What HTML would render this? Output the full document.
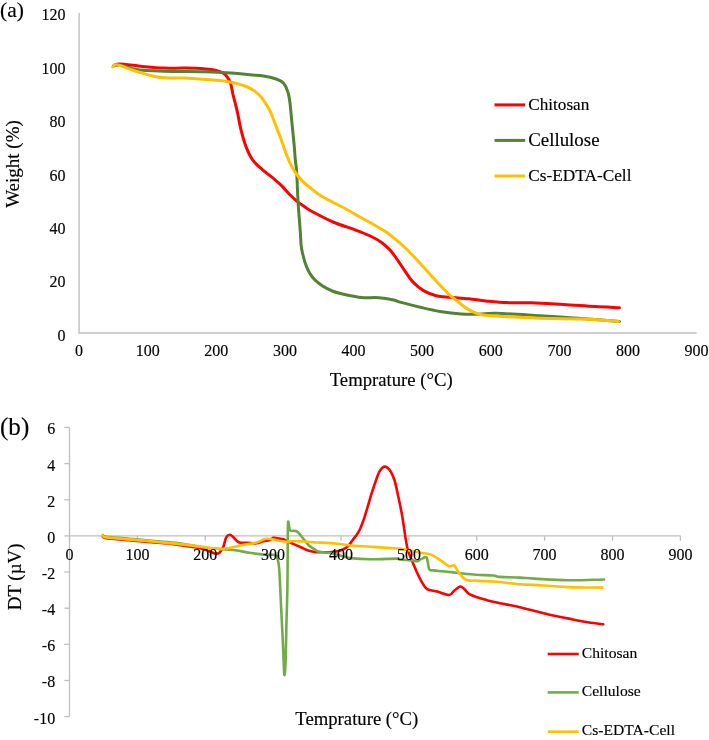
<!DOCTYPE html>
<html><head><meta charset="utf-8"><style>
html,body{margin:0;padding:0;background:#fff;width:709px;height:740px;overflow:hidden;font-family:"Liberation Serif",serif;}
svg{display:block;will-change:transform;}
</style></head><body>
<svg width="709" height="740" viewBox="0 0 709 740">
<rect width="709" height="740" fill="#fff"/>
<g font-family="Liberation Serif, serif" fill="#000" stroke="#000" stroke-width="0.15">
<path d="M79.1 12.9 V333 H696.6" fill="none" stroke="#BFBFBF" stroke-width="1.4"/>
<text x="65.6" y="340.7" font-size="16" text-anchor="end">0</text>
<text x="65.6" y="287.3" font-size="16" text-anchor="end">20</text>
<text x="65.6" y="233.9" font-size="16" text-anchor="end">40</text>
<text x="65.6" y="180.5" font-size="16" text-anchor="end">60</text>
<text x="65.6" y="127.1" font-size="16" text-anchor="end">80</text>
<text x="65.6" y="73.7" font-size="16" text-anchor="end">100</text>
<text x="65.6" y="20.3" font-size="16" text-anchor="end">120</text>
<text x="79.1" y="356.4" font-size="16" text-anchor="middle">0</text>
<text x="147.7" y="356.4" font-size="16" text-anchor="middle">100</text>
<text x="216.3" y="356.4" font-size="16" text-anchor="middle">200</text>
<text x="284.9" y="356.4" font-size="16" text-anchor="middle">300</text>
<text x="353.5" y="356.4" font-size="16" text-anchor="middle">400</text>
<text x="422.1" y="356.4" font-size="16" text-anchor="middle">500</text>
<text x="490.8" y="356.4" font-size="16" text-anchor="middle">600</text>
<text x="559.4" y="356.4" font-size="16" text-anchor="middle">700</text>
<text x="628.0" y="356.4" font-size="16" text-anchor="middle">800</text>
<text x="696.6" y="356.4" font-size="16" text-anchor="middle">900</text>
<text x="391.2" y="385.7" font-size="18.7" text-anchor="middle">Temprature (°C)</text>
<text x="0.0" y="0.0" font-size="19" text-anchor="middle" transform="translate(19.4 164) rotate(-90)">Weight (%)</text>
<text x="0.0" y="17.2" font-size="21.5" text-anchor="start">(a)</text>
<line x1="494.5" y1="104.9" x2="525.2" y2="104.9" stroke="#FF0000" stroke-width="3"/>
<text x="528.2" y="110.0" font-size="17.2" text-anchor="start">Chitosan</text>
<line x1="494.5" y1="140.4" x2="525.2" y2="140.4" stroke="#548235" stroke-width="3"/>
<text x="528.2" y="145.5" font-size="18.9" text-anchor="start">Cellulose</text>
<line x1="494.5" y1="176.0" x2="525.2" y2="176.0" stroke="#FFC000" stroke-width="3"/>
<text x="528.2" y="181.1" font-size="17.3" text-anchor="start">Cs-EDTA-Cell</text>
<path d="M113.5 66.0 C114.4 65.7 114.2 63.9 119.0 64.0 C123.8 64.1 134.9 65.7 142.3 66.4 C149.7 67.1 156.4 67.8 163.5 68.1 C170.6 68.4 177.5 68.0 184.6 68.1 C191.7 68.2 200.4 68.5 205.8 68.9 C211.2 69.3 214.2 70.0 216.9 70.6 C219.6 71.2 220.6 71.8 222.0 72.5 C223.4 73.2 224.0 73.2 225.4 74.8 C226.8 76.4 228.9 78.6 230.2 82.0 C231.5 85.4 231.9 90.1 233.1 95.0 C234.3 99.9 235.8 105.2 237.2 111.2 C238.5 117.2 239.7 124.7 241.2 130.7 C242.7 136.6 244.2 142.0 246.1 146.9 C248.0 151.8 249.9 156.1 252.6 159.9 C255.3 163.7 258.8 166.5 262.3 169.6 C265.8 172.7 270.4 175.9 273.7 178.6 C276.9 181.3 279.1 183.2 281.8 185.9 C284.5 188.6 287.2 192.1 289.9 194.8 C292.6 197.5 295.5 200.1 298.0 202.1 C300.5 204.1 302.7 205.4 305.0 207.0 C307.3 208.6 307.3 209.0 312.0 211.5 C316.7 214.0 325.8 218.9 333.0 222.0 C340.2 225.1 348.8 227.5 355.0 229.8 C361.2 232.1 365.8 233.9 370.2 236.0 C374.6 238.1 378.2 240.0 381.6 242.4 C385.0 244.8 387.8 247.5 390.5 250.6 C393.2 253.7 395.6 257.2 398.1 260.8 C400.6 264.4 403.2 268.6 405.7 272.2 C408.2 275.8 410.3 279.3 413.3 282.4 C416.3 285.5 419.7 288.4 423.5 290.6 C427.3 292.8 431.8 294.6 436.2 295.7 C440.6 296.8 444.6 296.8 450.0 297.3 C455.4 297.8 462.9 298.2 468.9 298.8 C474.9 299.4 479.5 300.3 485.8 300.9 C492.1 301.5 499.2 302.3 506.9 302.6 C514.5 302.9 522.3 302.5 531.7 302.8 C541.1 303.1 552.9 303.9 563.5 304.5 C574.1 305.1 585.9 306.1 595.2 306.6 C604.5 307.1 615.5 307.5 619.5 307.7" fill="none" stroke="#FF0000" stroke-width="3" stroke-linejoin="round" stroke-linecap="round"/>
<path d="M113.7 65.9 C114.9 65.8 117.3 64.6 121.0 65.2 C124.7 65.8 128.9 68.5 136.0 69.5 C143.1 70.5 151.9 70.8 163.5 71.2 C175.1 71.6 194.4 71.5 205.8 71.8 C217.2 72.1 224.3 72.6 231.7 73.1 C239.1 73.6 244.7 74.3 250.0 74.8 C255.3 75.3 259.1 75.2 263.5 75.9 C267.9 76.6 272.8 77.8 276.2 79.0 C279.6 80.2 281.7 81.2 283.6 83.3 C285.5 85.4 286.8 88.5 287.8 91.7 C288.9 94.9 289.2 97.0 289.9 102.3 C290.6 107.6 291.3 116.5 292.0 123.5 C292.7 130.6 293.6 138.5 294.1 144.6 C294.7 150.7 294.9 155.6 295.3 160.0 C295.7 164.4 296.1 164.0 296.6 171.2 C297.1 178.3 297.6 194.6 298.1 202.9 C298.6 211.2 299.1 216.2 299.5 221.2 C299.9 226.2 300.0 228.4 300.4 233.0 C300.8 237.6 300.5 242.9 301.6 248.7 C302.7 254.5 304.6 262.4 306.9 267.7 C309.2 273.0 311.2 276.5 315.4 280.4 C319.6 284.3 325.9 288.4 332.3 291.0 C338.7 293.6 348.2 295.2 353.5 296.3 C358.8 297.4 359.8 297.5 364.0 297.7 C368.2 297.9 373.9 297.3 378.9 297.7 C383.8 298.1 390.0 299.2 393.7 300.0 C397.4 300.8 396.4 301.1 401.2 302.4 C406.0 303.7 415.8 306.2 422.3 307.7 C428.8 309.2 433.5 310.3 440.0 311.4 C446.5 312.4 455.3 313.5 461.2 314.0 C467.1 314.5 469.4 314.4 475.3 314.3 C481.2 314.2 485.6 313.1 496.4 313.3 C507.2 313.6 525.3 314.9 540.0 315.8 C554.7 316.7 571.4 317.8 584.6 318.7 C597.9 319.6 613.7 320.9 619.5 321.4" fill="none" stroke="#548235" stroke-width="3" stroke-linejoin="round" stroke-linecap="round"/>
<path d="M112.7 66.9 C113.2 66.6 114.5 65.0 115.9 64.8 C117.3 64.6 117.9 64.8 121.2 65.9 C124.5 67.0 130.0 69.4 136.0 71.2 C142.0 73.0 149.0 75.8 157.1 76.9 C165.2 78.1 177.4 77.8 184.6 78.1 C191.8 78.4 193.4 78.5 200.0 79.0 C206.6 79.5 218.1 80.2 223.9 80.9 C229.8 81.6 231.3 82.2 235.1 83.1 C238.8 84.0 243.0 85.1 246.4 86.5 C249.8 87.9 252.8 89.6 255.4 91.6 C258.0 93.5 259.6 95.1 262.0 98.2 C264.4 101.3 267.6 106.5 269.5 110.0 C271.4 113.5 272.2 116.2 273.5 119.5 C274.8 122.8 276.2 126.5 277.5 130.0 C278.8 133.5 280.2 136.9 281.5 140.5 C282.8 144.1 283.7 147.4 285.3 151.5 C286.9 155.6 289.0 161.2 291.0 165.2 C293.0 169.2 295.2 172.5 297.5 175.5 C299.8 178.5 302.9 181.4 305.0 183.4 C307.1 185.4 307.2 185.4 310.0 187.5 C312.8 189.6 315.7 192.6 321.7 196.2 C327.7 199.8 339.6 205.5 346.0 209.0 C352.4 212.5 355.6 214.5 360.0 217.0 C364.4 219.5 368.5 221.6 372.7 224.0 C376.9 226.4 382.0 229.4 385.4 231.6 C388.8 233.8 390.5 235.3 393.0 237.3 C395.5 239.3 397.6 240.9 400.6 243.6 C403.6 246.2 407.0 249.3 410.8 253.2 C414.6 257.1 419.3 262.5 423.5 267.1 C427.7 271.8 432.0 276.6 436.2 281.1 C440.4 285.7 445.9 291.5 448.9 294.4 C451.9 297.3 451.4 296.3 454.1 298.5 C456.9 300.7 461.2 305.0 465.4 307.6 C469.6 310.2 474.3 312.9 479.5 314.3 C484.7 315.7 486.3 315.5 496.4 316.1 C506.5 316.8 525.3 317.7 540.0 318.2 C554.7 318.7 571.5 318.6 584.6 319.1 C597.7 319.6 612.9 321.0 618.5 321.4" fill="none" stroke="#FFC000" stroke-width="3" stroke-linejoin="round" stroke-linecap="round"/>
<path d="M69.5 427.4 V716.6" fill="none" stroke="#BFBFBF" stroke-width="1.3"/>
<line x1="64.3" y1="716.6" x2="69.5" y2="716.6" stroke="#BFBFBF" stroke-width="1.3"/>
<text x="55.2" y="723.5" font-size="16" text-anchor="end">-10</text>
<line x1="64.3" y1="680.5" x2="69.5" y2="680.5" stroke="#BFBFBF" stroke-width="1.3"/>
<text x="55.2" y="687.4" font-size="16" text-anchor="end">-8</text>
<line x1="64.3" y1="644.3" x2="69.5" y2="644.3" stroke="#BFBFBF" stroke-width="1.3"/>
<text x="55.2" y="651.2" font-size="16" text-anchor="end">-6</text>
<line x1="64.3" y1="608.2" x2="69.5" y2="608.2" stroke="#BFBFBF" stroke-width="1.3"/>
<text x="55.2" y="615.1" font-size="16" text-anchor="end">-4</text>
<line x1="64.3" y1="572.0" x2="69.5" y2="572.0" stroke="#BFBFBF" stroke-width="1.3"/>
<text x="55.2" y="578.9" font-size="16" text-anchor="end">-2</text>
<line x1="64.3" y1="535.9" x2="69.5" y2="535.9" stroke="#BFBFBF" stroke-width="1.3"/>
<text x="55.2" y="542.8" font-size="16" text-anchor="end">0</text>
<line x1="64.3" y1="499.8" x2="69.5" y2="499.8" stroke="#BFBFBF" stroke-width="1.3"/>
<text x="55.2" y="506.6" font-size="16" text-anchor="end">2</text>
<line x1="64.3" y1="463.6" x2="69.5" y2="463.6" stroke="#BFBFBF" stroke-width="1.3"/>
<text x="55.2" y="470.5" font-size="16" text-anchor="end">4</text>
<line x1="64.3" y1="427.4" x2="69.5" y2="427.4" stroke="#BFBFBF" stroke-width="1.3"/>
<text x="55.2" y="434.3" font-size="16" text-anchor="end">6</text>
<line x1="69.5" y1="535.8" x2="680.4" y2="535.8" stroke="#BFBFBF" stroke-width="1.3"/>
<line x1="69.5" y1="535.8" x2="69.5" y2="540.8" stroke="#BFBFBF" stroke-width="1.3"/>
<line x1="137.4" y1="535.8" x2="137.4" y2="540.8" stroke="#BFBFBF" stroke-width="1.3"/>
<line x1="205.2" y1="535.8" x2="205.2" y2="540.8" stroke="#BFBFBF" stroke-width="1.3"/>
<line x1="273.1" y1="535.8" x2="273.1" y2="540.8" stroke="#BFBFBF" stroke-width="1.3"/>
<line x1="341.0" y1="535.8" x2="341.0" y2="540.8" stroke="#BFBFBF" stroke-width="1.3"/>
<line x1="408.9" y1="535.8" x2="408.9" y2="540.8" stroke="#BFBFBF" stroke-width="1.3"/>
<line x1="476.8" y1="535.8" x2="476.8" y2="540.8" stroke="#BFBFBF" stroke-width="1.3"/>
<line x1="544.6" y1="535.8" x2="544.6" y2="540.8" stroke="#BFBFBF" stroke-width="1.3"/>
<line x1="612.5" y1="535.8" x2="612.5" y2="540.8" stroke="#BFBFBF" stroke-width="1.3"/>
<line x1="680.4" y1="535.8" x2="680.4" y2="540.8" stroke="#BFBFBF" stroke-width="1.3"/>
<path d="M102.9 536.5 C103.5 536.8 102.0 537.6 106.3 538.2 C110.6 538.8 121.4 539.5 128.9 540.2 C136.4 540.9 143.7 541.5 151.4 542.2 C159.1 542.9 166.9 543.4 175.0 544.4 C183.1 545.4 194.4 547.1 200.0 548.2 C205.6 549.3 205.9 550.1 208.5 551.0 C211.1 551.9 213.6 553.4 215.5 553.6 C217.4 553.8 218.4 553.5 219.7 552.4 C221.0 551.3 222.2 549.3 223.3 546.8 C224.4 544.3 225.1 539.6 226.1 537.6 C227.1 535.6 228.4 534.9 229.6 534.8 C230.8 534.7 231.7 535.7 233.1 536.9 C234.5 538.1 236.6 540.9 238.1 541.9 C239.6 542.9 240.7 542.6 242.3 542.8 C244.0 542.9 245.7 542.7 248.0 542.8 C250.3 542.9 253.8 543.6 256.4 543.3 C259.0 543.0 261.4 541.7 263.5 541.2 C265.6 540.7 267.5 540.8 269.2 540.3 C270.9 539.8 271.9 538.2 273.5 537.9 C275.1 537.6 277.5 538.4 279.1 538.6 C280.7 538.8 281.8 538.8 283.3 539.3 C284.8 539.8 286.7 540.9 288.3 541.7 C289.9 542.5 291.2 543.0 293.2 543.9 C295.2 544.8 297.9 546.0 300.3 547.0 C302.7 548.0 304.9 549.4 307.3 550.2 C309.8 551.0 313.1 551.7 315.0 552.0 C316.9 552.3 316.5 552.1 319.0 552.1 C321.5 552.1 326.6 552.5 330.2 552.2 C333.8 551.9 337.5 551.4 340.3 550.5 C343.1 549.6 345.0 548.9 347.1 547.1 C349.2 545.4 350.7 542.6 352.7 540.0 C354.7 537.4 357.1 534.8 359.0 531.2 C360.9 527.6 362.6 522.7 364.1 518.5 C365.6 514.3 366.6 510.1 367.9 505.9 C369.2 501.7 370.4 497.2 371.7 493.2 C373.0 489.2 374.2 485.3 375.5 481.7 C376.8 478.1 378.0 474.1 379.4 471.6 C380.8 469.1 382.4 467.4 383.8 466.8 C385.2 466.2 386.4 467.0 387.6 467.8 C388.8 468.6 389.6 469.5 390.8 471.6 C392.0 473.7 393.3 476.3 394.6 480.5 C395.9 484.7 397.1 491.1 398.4 497.0 C399.7 502.9 400.9 508.8 402.2 516.0 C403.4 523.2 404.9 534.2 405.9 540.0 C406.9 545.8 407.0 547.1 408.0 550.5 C409.0 553.9 410.3 556.7 411.8 560.3 C413.3 563.9 415.2 568.5 416.9 572.2 C418.6 575.9 420.3 579.5 422.0 582.3 C423.7 585.1 424.6 587.5 427.1 589.1 C429.6 590.7 433.5 590.6 437.2 591.6 C440.9 592.6 446.3 595.1 449.1 595.0 C451.9 594.9 452.4 592.2 454.2 590.8 C456.0 589.4 458.4 586.8 460.1 586.5 C461.8 586.2 462.8 587.8 464.3 589.1 C465.9 590.4 467.1 592.8 469.4 594.2 C471.7 595.6 475.1 596.5 477.9 597.5 C480.7 598.5 482.6 599.0 486.3 600.0 C490.0 601.0 494.9 602.1 500.0 603.2 C505.1 604.3 511.2 605.2 516.9 606.5 C522.5 607.8 528.2 609.4 533.9 610.8 C539.5 612.2 545.2 613.7 550.8 615.0 C556.4 616.3 562.1 617.3 567.7 618.4 C573.3 619.5 578.7 620.8 584.6 621.8 C590.5 622.8 600.1 623.9 603.2 624.3" fill="none" stroke="#FF0000" stroke-width="2.6" stroke-linejoin="round" stroke-linecap="round"/>
<path d="M102.9 535.0 C103.5 535.3 102.0 536.1 106.3 536.7 C110.6 537.3 121.4 538.0 128.9 538.7 C136.4 539.4 143.7 540.0 151.4 540.7 C159.1 541.4 166.9 541.9 175.0 542.9 C183.1 543.9 192.3 545.7 200.0 546.8 C207.7 547.9 215.3 548.7 221.2 549.3 C227.1 549.9 230.6 549.7 235.3 550.3 C240.0 550.9 244.7 552.0 249.4 552.7 C254.1 553.4 259.5 554.2 263.5 554.6 C267.5 555.0 271.2 554.6 273.3 554.8 C275.4 555.0 275.5 555.5 276.2 556.0 C276.9 556.5 276.8 555.8 277.3 558.0 C277.8 560.2 278.6 560.9 279.2 569.0 C279.8 577.1 280.5 594.3 281.1 606.9 C281.7 619.5 282.5 633.6 283.0 644.8 C283.5 656.0 283.9 671.1 284.3 674.2 C284.7 677.4 285.1 671.8 285.5 663.7 C285.9 655.6 286.1 638.4 286.4 625.8 C286.7 613.2 287.2 600.5 287.4 587.9 C287.6 575.3 287.6 561.0 287.7 550.0 C287.8 539.0 287.7 525.5 288.1 522.2 C288.5 518.9 288.9 528.9 290.0 530.3 C291.1 531.7 293.2 530.5 294.6 530.8 C296.0 531.1 296.9 531.2 298.1 532.2 C299.3 533.2 300.5 535.3 301.7 536.8 C302.9 538.3 304.0 539.6 305.2 541.0 C306.4 542.4 307.1 543.9 308.7 545.3 C310.3 546.7 313.3 548.4 315.0 549.5 C316.7 550.6 316.5 551.2 319.0 551.8 C321.5 552.4 326.6 552.4 330.2 553.0 C333.8 553.6 336.9 554.6 340.3 555.5 C343.7 556.4 345.4 557.5 350.5 558.1 C355.6 558.7 363.2 559.2 370.8 559.3 C378.4 559.4 391.3 558.6 396.2 558.6 C401.1 558.6 397.2 559.2 400.0 559.5 C402.8 559.8 410.3 560.3 413.1 560.6 C415.9 560.9 415.5 561.5 416.9 561.2 C418.3 560.9 420.0 559.5 421.6 558.9 C423.2 558.3 425.3 555.9 426.6 557.6 C427.9 559.3 428.1 567.0 429.2 569.1 C430.3 571.2 431.2 570.0 433.4 570.4 C435.6 570.8 438.0 570.9 442.3 571.3 C446.6 571.7 453.6 572.4 459.2 573.0 C464.8 573.6 470.5 574.3 476.2 574.7 C481.9 575.1 489.1 575.1 493.1 575.5 C497.1 575.9 495.5 576.5 500.0 576.9 C504.5 577.2 514.4 577.3 520.0 577.6 C525.6 577.9 525.9 578.2 533.9 578.6 C541.9 579.0 556.0 580.1 567.7 580.3 C579.4 580.4 598.0 579.6 604.1 579.5" fill="none" stroke="#70AD47" stroke-width="2.6" stroke-linejoin="round" stroke-linecap="round"/>
<path d="M102.9 535.7 C103.5 536.0 102.0 536.8 106.3 537.4 C110.6 538.0 121.4 538.7 128.9 539.4 C136.4 540.1 143.7 540.7 151.4 541.4 C159.1 542.1 166.9 542.8 175.0 543.6 C183.1 544.5 193.9 545.7 200.0 546.5 C206.1 547.3 207.8 547.8 211.3 548.2 C214.8 548.6 218.4 548.9 221.2 548.9 C224.0 548.9 224.7 548.8 228.2 548.2 C231.7 547.6 237.6 546.0 242.3 545.1 C247.0 544.2 252.6 543.6 256.4 542.6 C260.2 541.6 262.4 539.5 265.0 538.9 C267.6 538.3 269.8 539.0 272.1 539.3 C274.5 539.6 276.8 540.3 279.1 540.7 C281.5 541.1 283.9 541.7 286.2 541.7 C288.5 541.8 290.8 541.0 293.2 541.0 C295.6 541.0 297.9 541.3 300.3 541.4 C302.7 541.5 304.9 541.5 307.3 541.7 C309.8 541.9 312.9 542.2 315.0 542.4 C317.1 542.5 316.4 542.4 320.0 542.6 C323.6 542.8 331.2 543.2 336.9 543.7 C342.5 544.2 348.2 545.2 353.9 545.7 C359.5 546.2 365.2 546.3 370.8 546.7 C376.4 547.1 382.8 547.6 387.7 547.9 C392.6 548.2 397.2 548.2 400.0 548.5 C402.8 548.8 401.8 549.1 404.6 549.6 C407.4 550.1 414.1 551.2 416.9 551.8 C419.7 552.4 419.3 552.6 421.6 553.0 C423.9 553.4 427.3 553.2 430.5 554.4 C433.7 555.6 437.5 558.3 440.6 560.3 C443.7 562.3 446.8 565.4 449.1 566.2 C451.4 567.1 452.6 564.4 454.2 565.4 C455.8 566.4 456.4 569.8 458.4 572.2 C460.4 574.6 463.0 578.4 466.0 579.8 C469.0 581.2 471.7 580.3 476.2 580.6 C480.7 580.9 489.1 581.3 493.1 581.5 C497.1 581.7 495.5 581.5 500.0 582.0 C504.5 582.5 514.4 583.8 520.0 584.3 C525.6 584.8 525.9 584.4 533.9 584.9 C541.9 585.4 556.3 586.6 567.7 587.1 C579.1 587.6 596.6 587.5 602.4 587.6" fill="none" stroke="#FFC000" stroke-width="2.6" stroke-linejoin="round" stroke-linecap="round"/>
<text x="69.5" y="560.0" font-size="16" text-anchor="middle">0</text>
<text x="137.4" y="560.0" font-size="16" text-anchor="middle">100</text>
<text x="205.2" y="560.0" font-size="16" text-anchor="middle">200</text>
<text x="273.1" y="560.0" font-size="16" text-anchor="middle">300</text>
<text x="341.0" y="560.0" font-size="16" text-anchor="middle">400</text>
<text x="408.9" y="560.0" font-size="16" text-anchor="middle">500</text>
<text x="476.8" y="560.0" font-size="16" text-anchor="middle">600</text>
<text x="544.6" y="560.0" font-size="16" text-anchor="middle">700</text>
<text x="612.5" y="560.0" font-size="16" text-anchor="middle">800</text>
<text x="680.4" y="560.0" font-size="16" text-anchor="middle">900</text>
<text x="356.8" y="725.0" font-size="18.7" text-anchor="middle">Temprature (°C)</text>
<text x="0.0" y="0.0" font-size="18.9" text-anchor="middle" transform="translate(20.5 576.9) rotate(-90)">DT (µV)</text>
<text x="0.0" y="435.4" font-size="25.1" text-anchor="start">(b)</text>
<line x1="547.7" y1="654.0" x2="578.7" y2="654.0" stroke="#FF0000" stroke-width="2.6"/>
<text x="581.8" y="657.5" font-size="15.6" text-anchor="start">Chitosan</text>
<line x1="547.7" y1="692.4" x2="578.7" y2="692.4" stroke="#70AD47" stroke-width="2.6"/>
<text x="581.8" y="695.9" font-size="15.6" text-anchor="start">Cellulose</text>
<line x1="547.7" y1="731.7" x2="578.7" y2="731.7" stroke="#FFC000" stroke-width="2.6"/>
<text x="581.8" y="735.2" font-size="15.6" text-anchor="start">Cs-EDTA-Cell</text>
</g></svg>
</body></html>
